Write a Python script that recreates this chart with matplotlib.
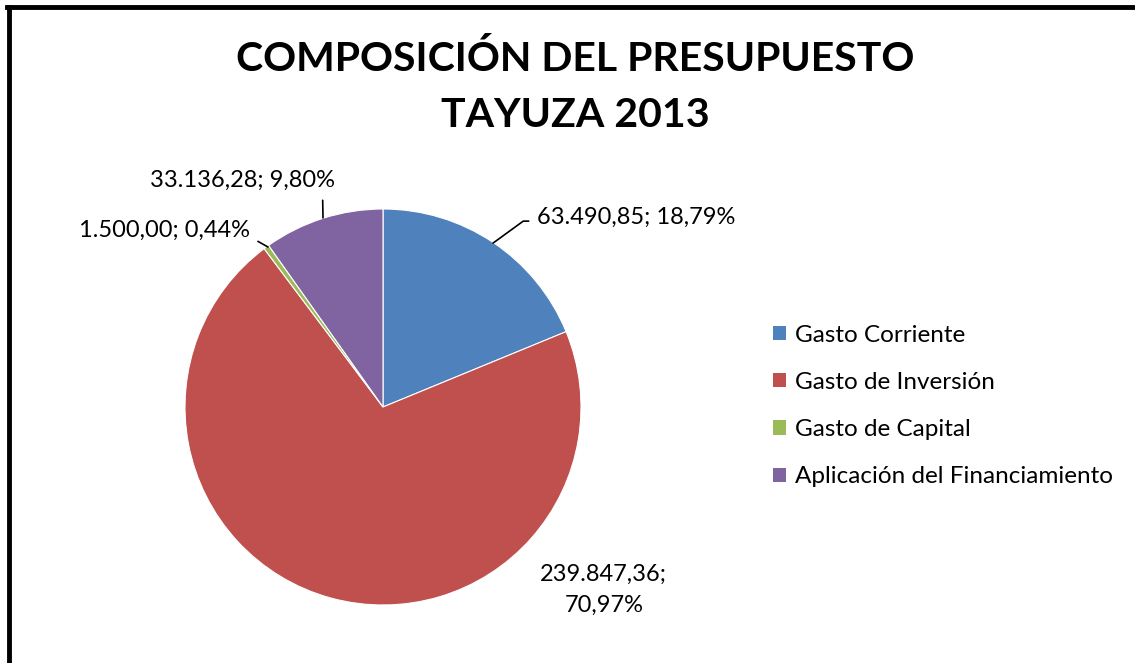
import matplotlib.pyplot as plt
from matplotlib.lines import Line2D
from matplotlib.patches import Patch

# Data
categories = ["Gasto Corriente", "Gasto de Inversión", "Gasto de Capital",
              "Aplicación del Financiamiento"]
values = [63490.85, 239847.36, 1500.00, 33136.28]
colors = ["#4F81BD", "#C0504D", "#9BBB59", "#8064A2"]


def fmt_es(v):
    s = "{:,.2f}".format(v)
    return s.replace(",", "X").replace(".", ",").replace("X", ".")


plt.rcParams['font.family'] = ['Lato', 'DejaVu Sans']

W, H = 1135, 663
fig = plt.figure(figsize=(W / 100, H / 100), dpi=100)
fig.patch.set_facecolor("white")

# pie axes: centre (383, 407) px, radius 198 px
cx, cy, r = 383, 407, 198
ax = fig.add_axes([(cx - r) / W, (H - cy - r) / H, 2 * r / W, 2 * r / H])
wedges, _ = ax.pie(values, colors=colors, startangle=90, counterclock=False,
                   radius=1.0, wedgeprops=dict(edgecolor="white", linewidth=0.8))
ax.set_xlim(-1, 1)
ax.set_ylim(-1, 1)
ax.set_aspect("equal")
ax.axis("off")

total = sum(values)
labels = [fmt_es(v) + "; " + fmt_es(v / total * 100) + "%" for v in values]

fs = 17
# Gasto Corriente
ax.annotate(labels[0], xy=(0.556, 0.828), xytext=(0.778, 0.96),
            fontsize=fs, va="center", ha="left",
            arrowprops=dict(arrowstyle="-", color="black", lw=1.2,
                            connectionstyle="angle,angleA=0,angleB=36,rad=0",
                            relpos=(0, 0.3), shrinkA=4, shrinkB=0),
            annotation_clip=False)
# Gasto de Inversión
ax.text(1.115, -0.924, labels[1].replace("; ", ";\n"), fontsize=fs,
        ha="center", va="center", linespacing=1.6)
# Gasto de Capital
ax.annotate(labels[2], xy=(-0.581, 0.808), xytext=(-0.67, 0.89),
            fontsize=fs, va="center", ha="right",
            arrowprops=dict(arrowstyle="-", color="black", lw=1.2,
                            relpos=(1, 0.2), shrinkA=4, shrinkB=0),
            annotation_clip=False)
# Aplicación del Financiamiento
ax.annotate(labels[3], xy=(-0.303, 0.955), xytext=(-0.712, 1.146),
            fontsize=fs, va="center", ha="center",
            arrowprops=dict(arrowstyle="-", color="black", lw=1.2,
                            relpos=(0.935, 0), shrinkA=5, shrinkB=0),
            annotation_clip=False)

# Title
fig.text(575 / W, 1 - 87 / H, "COMPOSICIÓN DEL PRESUPUESTO\nTAYUZA 2013",
         ha="center", va="center", fontsize=29.5, fontweight="bold",
         linespacing=1.65)

# Legend
handles = [Patch(facecolor=c, edgecolor="none") for c in colors]
fig.legend(handles, categories, loc="center left",
           bbox_to_anchor=(751 / W, 1 - 406 / H), frameon=False,
           fontsize=17.5, handlelength=0.53, handleheight=0.53,
           handletextpad=0.4, labelspacing=1.08)

# Outer border (left and top visible)
fig.add_artist(Line2D([8.5 / W, 8.5 / W], [0, 1 - 6.5 / H], color="black",
                      lw=3.5, transform=fig.transFigure))
fig.add_artist(Line2D([6.5 / W, 1], [1 - 6.5 / H, 1 - 6.5 / H], color="black",
                      lw=3.5, transform=fig.transFigure))

fig.savefig("out.png", dpi=100)
